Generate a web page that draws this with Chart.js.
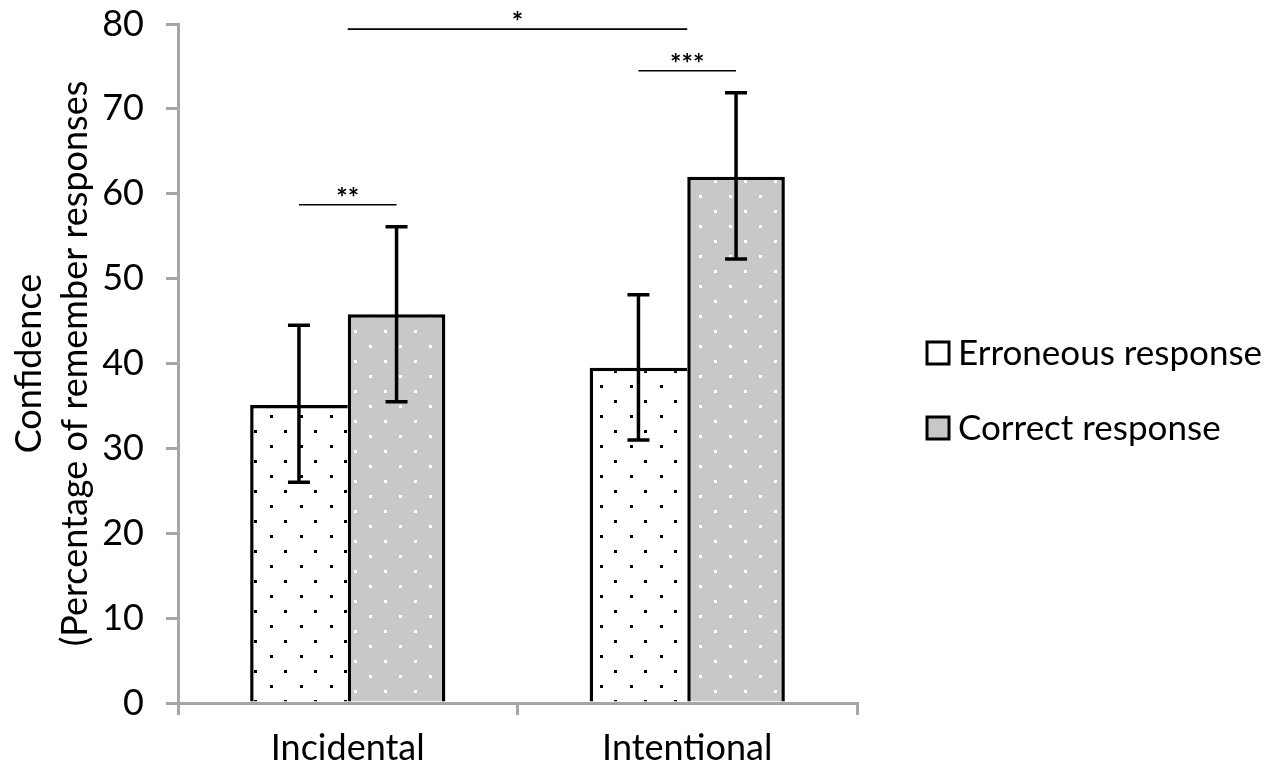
<!DOCTYPE html>
<html>
<head>
<meta charset="utf-8">
<script src="https://cdn.jsdelivr.net/npm/chart.js@4.4.1/dist/chart.umd.min.js"></script>
<style>
  html, body { margin: 0; padding: 0; background: #fff; }
  #wrap { width: 1278px; height: 777px; position: relative; }
</style>
</head>
<body>
<div id="wrap"><canvas id="confidenceChart"></canvas></div>
<script>
// Data
const categories = ['Incidental', 'Intentional'];
const seriesNames = ['Erroneous response', 'Correct response'];

const erroneousMean = [35.1, 39.5];
const erroneousLow = [26.0, 31.0];
const erroneousHigh = [44.5, 48.1];

const correctMean = [45.8, 62.0];
const correctLow = [35.5, 52.3];
const correctHigh = [56.1, 71.9];

// significance brackets: category index = across the two bars of that group, null = across groups
const sigText = ['**', '***', '*'];
const sigValue = [58.7, 74.5, 79.4];
const sigCategory = [0, 1, null];

const yTitle = ['Confidence', '(Percentage of remember responses'];

const FONT = 'Lato';
const AXIS_GREY = '#a6a6a6';

// dotted fills
function dotPattern(bg, dot, a, b) {
    const c = document.createElement('canvas');
    c.width = 30;
    c.height = 30;
    const g = c.getContext('2d');
    g.fillStyle = bg;
    g.fillRect(0, 0, 30, 30);
    g.fillStyle = dot;
    g.fillRect(a[0], a[1], 3, 3);
    g.fillRect(b[0], b[1], 3, 3);
    return g.createPattern(c, 'repeat');
}

const whiteDots = dotPattern('#ffffff', '#000000', [14, 10], [0, 25]);
const greyDots = dotPattern('#c8c8c8', '#ffffff', [24, 0], [9, 15]);

// error bars drawn on top of the bars
const errorBars = {
    id: 'errorBars',
    afterDatasetsDraw(chart) {
        const ctx = chart.ctx;
        const y = chart.scales.y;
        const lows = [erroneousLow, correctLow];
        const highs = [erroneousHigh, correctHigh];
        chart.data.datasets.forEach((ds, i) => {
            chart.getDatasetMeta(i).data.forEach((bar, j) => {
                const top = y.getPixelForValue(highs[i][j]);
                const bot = y.getPixelForValue(lows[i][j]);
                ctx.save();
                ctx.strokeStyle = '#000';
                ctx.lineWidth = 3.5;
                ctx.beginPath();
                ctx.moveTo(bar.x, top);
                ctx.lineTo(bar.x, bot);
                ctx.moveTo(bar.x - 11, top);
                ctx.lineTo(bar.x + 11, top);
                ctx.moveTo(bar.x - 11, bot);
                ctx.lineTo(bar.x + 11, bot);
                ctx.stroke();
                ctx.restore();
            });
        });
    }
};

// significance lines with stars
const sigBrackets = {
    id: 'sigBrackets',
    afterDatasetsDraw(chart) {
        const ctx = chart.ctx;
        const x = chart.scales.x;
        const y = chart.scales.y;
        sigText.forEach((txt, k) => {
            let x1, x2;
            if (sigCategory[k] === null) {
                x1 = x.getPixelForValue(0);
                x2 = x.getPixelForValue(1);
            } else {
                x1 = chart.getDatasetMeta(0).data[sigCategory[k]].x;
                x2 = chart.getDatasetMeta(1).data[sigCategory[k]].x;
            }
            const py = y.getPixelForValue(sigValue[k]);
            ctx.save();
            ctx.strokeStyle = '#000';
            ctx.lineWidth = 1.6;
            ctx.beginPath();
            ctx.moveTo(x1, py);
            ctx.lineTo(x2, py);
            ctx.stroke();
            ctx.fillStyle = '#000';
            ctx.font = 'bold 27px ' + FONT;
            ctx.textAlign = 'center';
            ctx.textBaseline = 'alphabetic';
            ctx.fillText(txt, (x1 + x2) / 2, py + 2);
            ctx.restore();
        });
    }
};

// legend on the right
const sideLegend = {
    id: 'sideLegend',
    afterDraw(chart) {
        const ctx = chart.ctx;
        const left = chart.chartArea.right + 70;
        const rows = [353, 428];
        ctx.save();
        seriesNames.forEach((name, i) => {
            const cy = rows[i];
            ctx.fillStyle = i === 0 ? '#fff' : '#c8c8c8';
            ctx.fillRect(left, cy - 11, 22, 22);
            ctx.strokeStyle = '#000';
            ctx.lineWidth = 3;
            ctx.strokeRect(left, cy - 11, 22, 22);
            ctx.fillStyle = '#000';
            ctx.font = '35px ' + FONT;
            ctx.textAlign = 'left';
            ctx.textBaseline = 'middle';
            ctx.fillText(name, left + 31, cy + 1);
        });
        ctx.restore();
    }
};

const ctx = document.getElementById('confidenceChart').getContext('2d');

const confidenceChart = new Chart(ctx, {
    type: 'bar',
    data: {
        labels: categories,
        datasets: [{
            label: seriesNames[0],
            data: erroneousMean,
            backgroundColor: whiteDots,
            borderColor: '#000',
            borderWidth: { top: 3.5, left: 3.5, right: 0, bottom: 0 },
            borderSkipped: 'start',
            categoryPercentage: 0.575,
            barPercentage: 1.0
        }, {
            label: seriesNames[1],
            data: correctMean,
            backgroundColor: greyDots,
            borderColor: '#000',
            borderWidth: { top: 3.5, left: 3.5, right: 3.5, bottom: 0 },
            borderSkipped: 'start',
            categoryPercentage: 0.575,
            barPercentage: 1.0
        }]
    },
    options: {
        responsive: true,
        maintainAspectRatio: false,
        animation: false,
        layout: {
            padding: { left: 0, right: 421, top: 24, bottom: 0 }
        },
        scales: {
            y: {
                min: 0,
                max: 80,
                afterFit: (scale) => {
                    scale.width = 178;
                    // keep the plot top at the layout padding, not label height + tick padding
                    scale.paddingTop = 0;
                    scale.paddingBottom = 0;
                },
                ticks: {
                    stepSize: 10,
                    color: '#000',
                    padding: 22,
                    font: { family: FONT, size: 36 }
                },
                grid: {
                    drawOnChartArea: false,
                    color: AXIS_GREY,
                    lineWidth: 3,
                    tickLength: 12
                },
                border: {
                    color: AXIS_GREY,
                    width: 3
                },
                title: {
                    display: true,
                    text: yTitle,
                    color: '#000',
                    padding: { top: 6, bottom: 0 },
                    font: { family: FONT, size: 36, lineHeight: 1.28 }
                }
            },
            x: {
                afterFit: (scale) => { scale.height = 74; },
                ticks: {
                    color: '#000',
                    padding: 12,
                    font: { family: FONT, size: 36 }
                },
                grid: {
                    drawOnChartArea: false,
                    offset: true,
                    color: AXIS_GREY,
                    lineWidth: 3,
                    tickLength: 12
                },
                border: {
                    color: AXIS_GREY,
                    width: 3
                }
            }
        },
        plugins: {
            legend: { display: false },
            tooltip: { enabled: false }
        }
    },
    plugins: [errorBars, sigBrackets, sideLegend]
});
</script>
</body>
</html>
